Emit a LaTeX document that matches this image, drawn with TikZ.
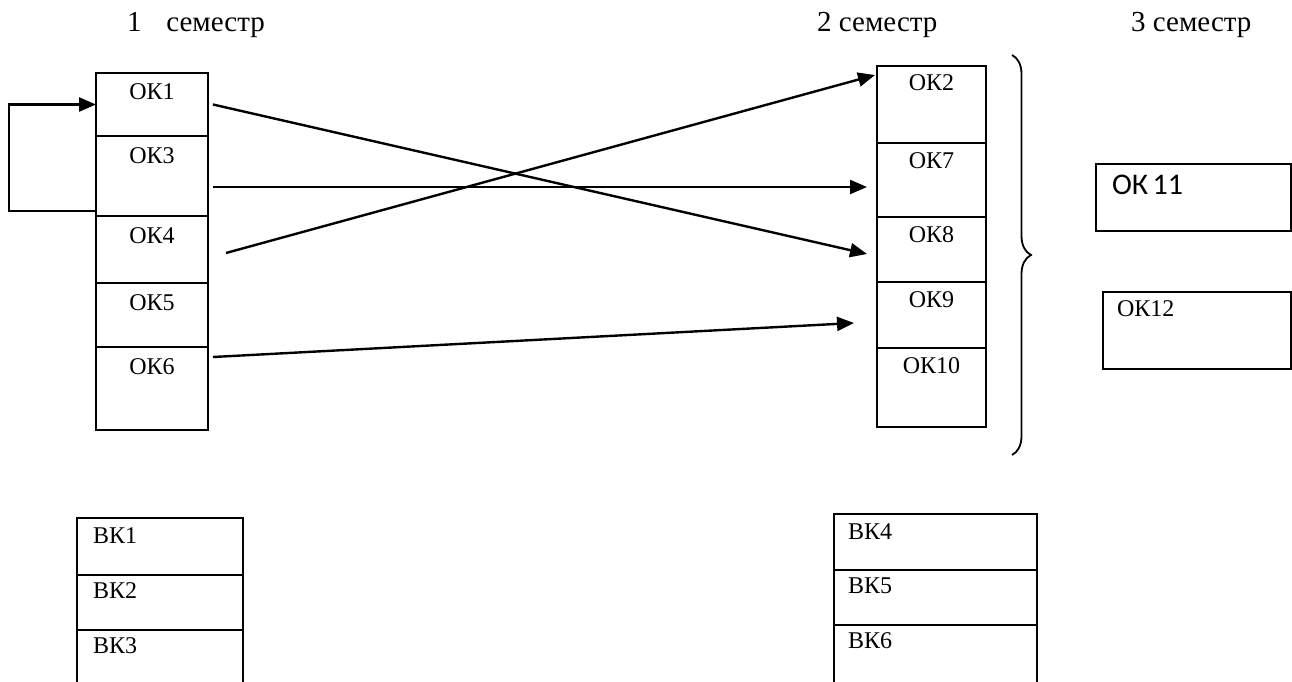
\documentclass[tikz,border=0pt]{standalone}
\usepackage{fontspec}
\setmainfont{Liberation Serif}
\newfontfamily\sansfont{Carlito}
\usetikzlibrary{positioning,arrows.meta,decorations.pathreplacing}

\tikzset{
  box/.style={draw, line width=2.4pt, outer sep=0pt, inner sep=0pt,
    font=\fontsize{24}{28}\selectfont},
  okleft/.style={box, minimum width=112pt, text height=27pt, text depth=#1},
  okright/.style={box, minimum width=109pt, text height=25pt, text depth=#1},
  vkleft/.style={box, inner xsep=16pt, text width=134pt, align=left,
    text height=25pt, text depth=#1},
  vkright/.style={box, inner xsep=14pt, text width=175pt, align=left,
    text height=25pt, text depth=#1},
  sem/.style={anchor=base west, inner sep=0pt, font=\fontsize{29}{34}\selectfont},
  link/.style={line width=2.4pt, -{Triangle[length=17pt,width=14pt]}},
}

\begin{document}
\begin{tikzpicture}[x=1pt,y=-1pt]
  \useasboundingbox (0,0) rectangle (1292,682);
  \clip (0,0) rectangle (1292,682);

  % semesters
  \node[sem] (sem1) at (127,32) {1\hspace{0.85em}семестр};
  \node[sem] (sem2) at (817,32) {2 семестр};
  \node[sem] (sem3) at (1131,32) {3 семестр};

  % 1 semester
  \node[okleft=36pt, anchor=north west] (ok1) at (96,73) {ОК1};
  \node[okleft=53pt, below=0pt of ok1] (ok3) {ОК3};
  \node[okleft=40pt, below=0pt of ok3] (ok4) {ОК4};
  \node[okleft=37pt, below=0pt of ok4] (ok5) {ОК5};
  \node[okleft=56pt, below=0pt of ok5] (ok6) {ОК6};

  % 2 semester
  \node[okright=52pt, anchor=north west] (ok2) at (877,66) {ОК2};
  \node[okright=49pt, below=0pt of ok2] (ok7) {ОК7};
  \node[okright=40pt, below=0pt of ok7] (ok8) {ОК8};
  \node[okright=41pt, below=0pt of ok8] (ok9) {ОК9};
  \node[okright=54pt, below=0pt of ok9] (ok10) {ОК10};

  \draw[line width=1.8pt, decorate, decoration={brace, amplitude=19pt}]
    (1012,55) -- (1012,455);

  % 3 semester
  \node[box, anchor=north west, inner xsep=16pt, text width=163pt, align=left,
    font=\sansfont\fontsize{30}{36}\selectfont, text height=30pt, text depth=37pt]
    (ok11) at (1096,164) {ОК\hspace{0.15em}11};
  \node[box, anchor=north west, inner xsep=14pt, text width=160pt, align=left,
    text height=24pt, text depth=53pt] (ok12) at (1103,292) {ОК12};

  % elective
  \node[vkleft=32pt, anchor=north west] (vk1) at (77,518) {ВК1};
  \node[vkleft=32pt, text height=23pt, below=0pt of vk1] (vk2) {ВК2};
  \node[vkleft=40pt, text height=23pt, below=0pt of vk2] (vk3) {ВК3};

  \node[vkright=31pt, anchor=north west] (vk4) at (834,514) {ВК4};
  \node[vkright=32pt, text height=23pt, below=0pt of vk4] (vk5) {ВК5};
  \node[vkright=40pt, text height=23pt, below=0pt of vk5] (vk6) {ВК6};

  \begin{scope}[link]
    \draw ([xshift=5pt]ok1.east) to ([xshift=-10pt,yshift=-4.5pt]ok8.west);
    \draw ([xshift=5pt,yshift=-11pt]ok3.east) to ([xshift=-10pt,yshift=-7pt]ok7.west);
    \draw ([xshift=18pt,yshift=-3.5pt]ok4.east) to ([xshift=-2pt,yshift=-9pt]ok2.north west);
    \draw ([xshift=5pt,yshift=-10pt]ok6.north east) to ([xshift=-23pt,yshift=-8pt]ok9.west);
    \draw ([yshift=5pt]ok3.south west) -- ++(-87,0) |- (ok1.west);
  \end{scope}
\end{tikzpicture}
\end{document}
